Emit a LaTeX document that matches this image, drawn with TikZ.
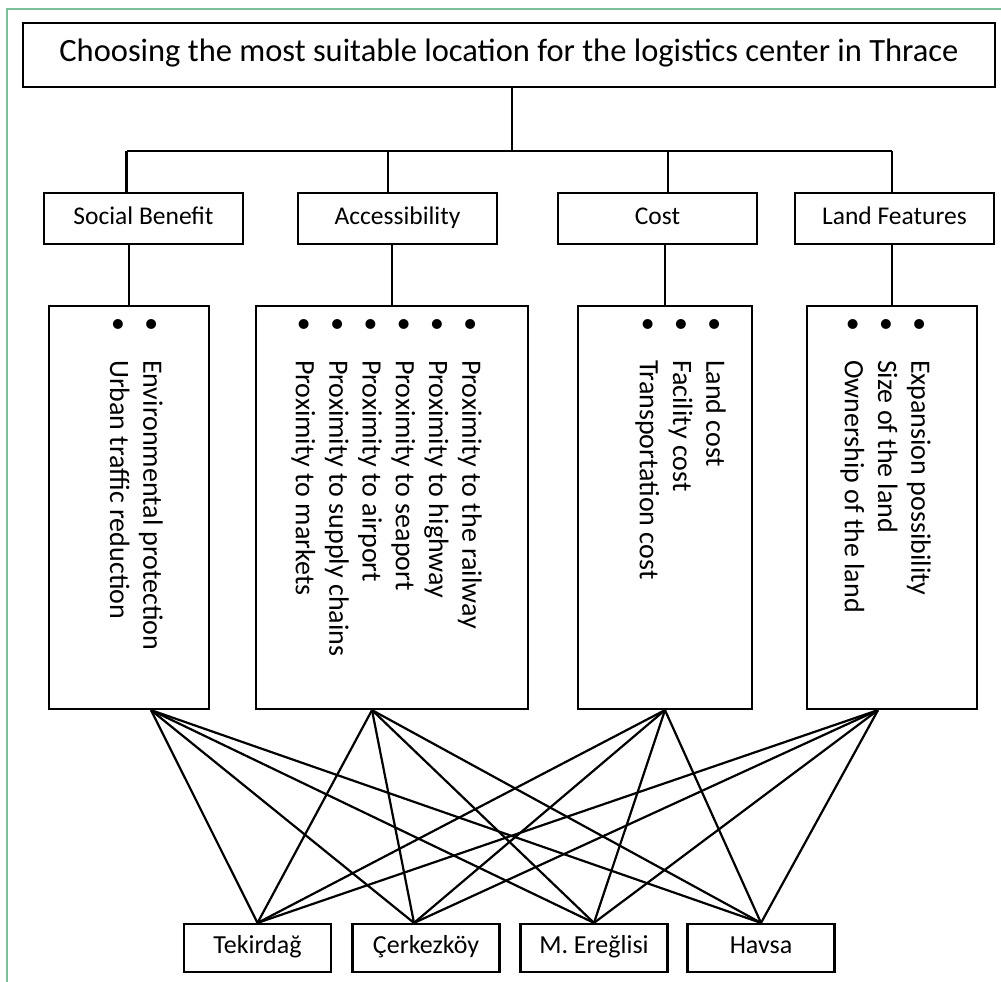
\documentclass[tikz,border=0pt]{standalone}
\usepackage{fontspec}
\setmainfont{Carlito}
\definecolor{framegreen}{RGB}{122,192,152}
\begin{document}
\begin{tikzpicture}[x=1pt, y=-1pt, line width=2.2pt,
  crit/.style={draw, minimum width=199pt, minimum height=51pt, inner sep=0pt, text height=17pt, text depth=6pt, font=\fontsize{25.5}{31}\selectfont},
  detail/.style={draw, minimum height=403pt, inner sep=0pt},
  items/.style={rotate=-90, anchor=north west, align=left, inner sep=0pt, font=\fontsize{28}{33.3}\selectfont},
  site/.style={draw, minimum width=147pt, minimum height=48pt, inner sep=0pt, text height=17pt, text depth=6pt, font=\fontsize{26}{31}\selectfont}]
\useasboundingbox (0,0) rectangle (1001,982);
\draw[framegreen, line width=2pt] (7,982)--(7,9)--(1001,9);

\node[draw, minimum width=972pt, minimum height=64pt, inner sep=0pt, text height=22pt, text depth=8pt, font=\fontsize{32.5}{39}\selectfont] (goal) at (509,55) {Choosing the most suitable location for the logistics center in Thrace};

\node[crit] (c1) at (143.5,218.5) {Social Benefit};
\node[crit] (c2) at (397.5,218.5) {Accessibility};
\node[crit] (c3) at (657.5,218.5) {Cost};
\node[crit] (c4) at (894.5,218.5) {Land Features};

\node[detail, minimum width=160pt] (d1) at (129,507.5) {};
\node[detail, minimum width=272pt] (d2) at (392,507.5) {};
\node[detail, minimum width=174pt] (d3) at (665,507.5) {};
\node[detail, minimum width=170pt] (d4) at (892,507.5) {};

\node[items] (l1) at (164,316) {\textbullet\hspace{29pt}Environmental protection\\
  \textbullet\hspace{29pt}Urban traffic reduction};
\node[items] (l2) at (483,316) {\textbullet\hspace{29pt}Proximity to the railway\\
  \textbullet\hspace{29pt}Proximity to highway\\
  \textbullet\hspace{29pt}Proximity to seaport\\
  \textbullet\hspace{29pt}Proximity to airport\\
  \textbullet\hspace{29pt}Proximity to supply chains\\
  \textbullet\hspace{29pt}Proximity to markets};
\node[items] (l3) at (727,316) {\textbullet\hspace{29pt}Land cost\\
  \textbullet\hspace{29pt}Facility cost\\
  \textbullet\hspace{29pt}Transportation cost};
\node[items] (l4) at (932,316) {\textbullet\hspace{29pt}Expansion possibility\\
  \textbullet\hspace{29pt}Size of the land\\
  \textbullet\hspace{29pt}Ownership of the land};

\node[site] (s1) at (257.5,948) {Tekirdağ};
\node[site] (s2) at (426,948) {Çerkezköy};
\node[site] (s3) at (594,948) {M. Ereğlisi};
\node[site] (s4) at (761,948) {Havsa};

\coordinate (bus) at (512,151);
\draw (goal.south -| bus) -- (bus);
\draw ([xshift=-17pt]c1.north |- bus) -- ([xshift=-2.5pt]c4.north |- bus);
\foreach \n/\dx in {c1/-17, c2/-9.5, c3/10.5, c4/-2.5}
  \draw ([xshift=\dx pt]\n.north) -- ([xshift=\dx pt]\n.north |- bus);
\foreach \i in {1,...,4}
  \draw (d\i.north) -- (d\i.north |- c\i.south);

\coordinate (p1) at ([xshift=22pt]d1.south);
\coordinate (p2) at ([xshift=-20pt]d2.south);
\coordinate (p3) at (d3.south);
\coordinate (p4) at ([xshift=-14pt]d4.south);
\coordinate (q1) at (s1.north);
\coordinate (q2) at ([xshift=-12pt]s2.north);
\coordinate (q3) at (s3.north);
\coordinate (q4) at (s4.north);
\foreach \i in {1,...,4}
  \foreach \j in {1,...,4}
    \draw (p\i) -- (q\j);
\end{tikzpicture}
\end{document}
